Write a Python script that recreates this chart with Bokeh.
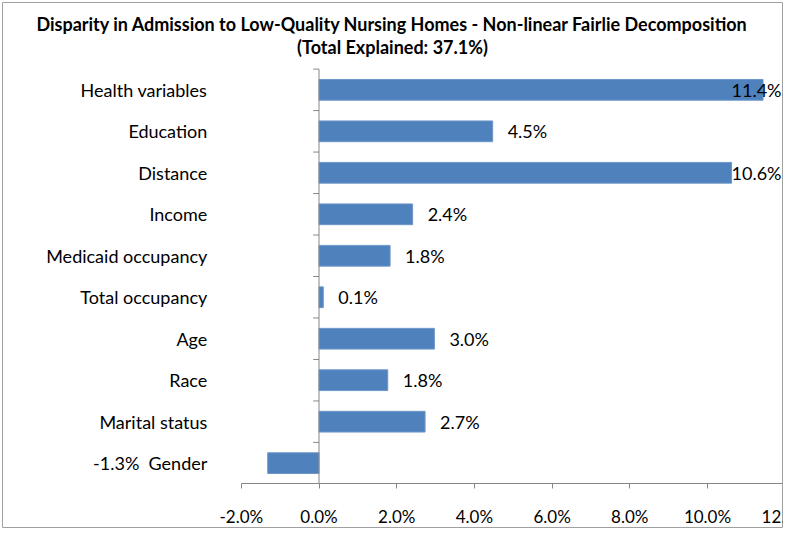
from bokeh.plotting import figure
from bokeh.models import Range1d, PrintfTickFormatter, FixedTicker
from bokeh.core.properties import value
from bokeh.embed import file_html
from bokeh.resources import INLINE

# ---- data (top-to-bottom order as in the chart) ----
categories = ["Health variables", "Education", "Distance", "Income",
              "Medicaid occupancy", "Total occupancy", "Age", "Race",
              "Marital status", "Gender"]
shares = [11.43, 4.47, 10.62, 2.41, 1.83, 0.11, 2.97, 1.77, 2.73, -1.32]
x_ticks = [-2, 0, 2, 4, 6, 8, 10, 12]
title_lines = ["Disparity in Admission to Low-Quality Nursing Homes - Non-linear Fairlie Decomposition",
               "(Total Explained: 37.1%)"]

FONT = "Lato"
W, H = 784, 530
n = len(categories)
ypos = [n - 1 - i for i in range(n)]          # first category at the top

# layout geometry (pixels): the frame is the whole bordered chart area
SX, SY = 38.85, 41.48          # px per 1 %-point, px per category
X0_PX, YB_PX = 318.5, 483.4    # pixel of x = 0, pixel of bottom category edge
def px_x(px): return (px - X0_PX) / SX
def px_y(py): return -0.5 + (YB_PX - py) / SY

AX_LO, AX_HI = x_ticks[0], x_ticks[-1]

p = figure(width=W, height=H,
           x_range=Range1d(px_x(2), px_x(782)),
           y_range=Range1d(px_y(527), px_y(2)),
           output_backend="svg", toolbar_location=None,
           min_border_left=2, min_border_right=2,
           min_border_top=2, min_border_bottom=3)

p.outline_line_color = "#a0a0a0"
p.outline_line_width = 1
p.xgrid.visible = False
p.ygrid.visible = False
p.background_fill_color = "white"
p.border_fill_color = "white"

# two-line bold title, centred on the chart
p.text(x=[px_x(392)] * 2, y=[px_y(23.5), px_y(46)], text=title_lines,
       text_align="center", text_baseline="middle",
       text_font=value(FONT), text_font_style="bold", text_font_size="18px",
       text_color="#000000")

# bars
p.hbar(y=ypos, left=0, right=shares, height=0.5,
       fill_color="#4F81BD", line_color="#6E96C8", line_width=1)

# category axis line at 0 with tick marks between categories
p.segment(x0=[0], x1=[0], y0=[-0.5], y1=[n - 0.5], line_color="#868686", line_width=1)
p.segment(x0=[0] * n, x1=[-0.15] * n,
          y0=[y + 0.5 for y in ypos], y1=[y + 0.5 for y in ypos],
          line_color="#868686", line_width=1)

# data labels
fmt = lambda v: f"{v:.1f}%"
pos_y = [y for y, v in zip(ypos, shares) if 0 <= v <= 10]
pos_v = [v for v in shares if 0 <= v <= 10]
p.text(x=pos_v, y=pos_y, text=[fmt(v) for v in pos_v],
       x_offset=15, text_align="left", text_baseline="middle",
       text_font=value(FONT), text_font_size="18px", text_color="#000000")
big_y = [y for y, v in zip(ypos, shares) if v > 10]
big_v = [v for v in shares if v > 10]
p.text(x=[px_x(781)] * len(big_v), y=big_y, text=[fmt(v) for v in big_v],
       text_align="right", text_baseline="middle",
       text_font=value(FONT), text_font_size="18px", text_color="#000000")

# x axis, drawn inside the bordered area along the bottom category edge
p.xaxis.fixed_location = -0.5
p.xaxis.bounds = (AX_LO, AX_HI)
p.xaxis.ticker = FixedTicker(ticks=x_ticks)
p.xaxis.formatter = PrintfTickFormatter(format="%.1f%%")
p.xaxis.axis_line_color = "#868686"
p.xaxis.major_tick_line_color = "#868686"
p.xaxis.major_tick_out = 5
p.xaxis.major_tick_in = 0
p.xaxis.minor_tick_line_color = None
p.xaxis.major_label_text_font = FONT
p.xaxis.major_label_text_font_size = "17px"
p.xaxis.major_label_text_color = "#000000"
p.xaxis.major_label_standoff = 17
# last tick label, cut by the chart border as in the original
p.text(x=[AX_HI], y=[-0.5], text=[fmt(AX_HI)], y_offset=22,
       text_align="center", text_baseline="top",
       text_font=value(FONT), text_font_size="17px", text_color="#000000")

# y axis (category labels only), at the left edge of the value axis
p.yaxis.fixed_location = AX_LO
p.yaxis.ticker = FixedTicker(ticks=ypos)
p.yaxis.axis_line_color = None
p.yaxis.major_tick_line_color = None
p.yaxis.minor_tick_line_color = None
p.yaxis.major_tick_out = 0
p.yaxis.major_tick_in = 0
p.yaxis.major_label_standoff = 34
p.yaxis.major_label_text_font = FONT
p.yaxis.major_label_text_font_size = "18px"
p.yaxis.major_label_text_color = "#000000"
p.yaxis.major_label_overrides = {
    y: (f"{fmt(v)} \u00a0{c}" if v < 0 else c) for y, c, v in zip(ypos, categories, shares)
}

open("out.html", "w").write(file_html(p, INLINE))
